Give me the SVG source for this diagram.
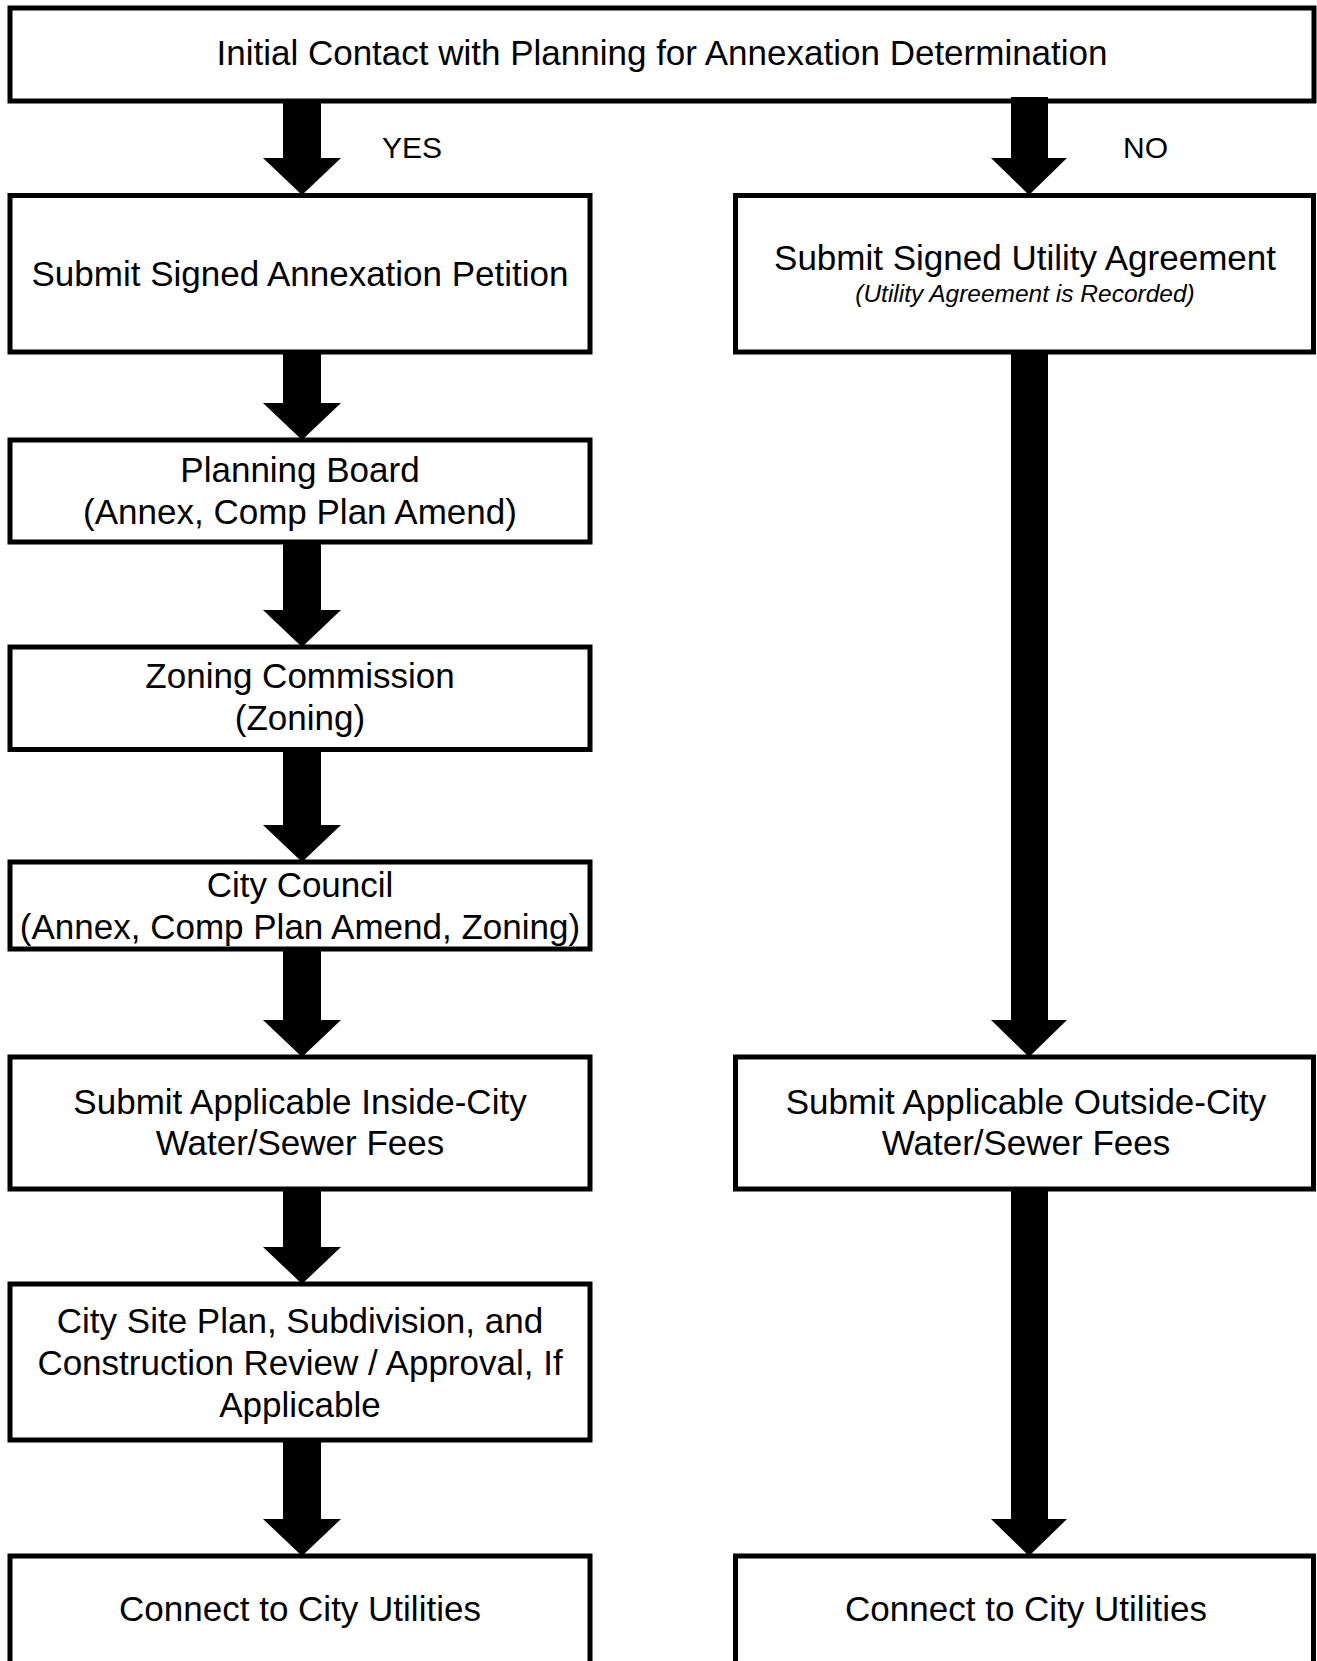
<svg xmlns="http://www.w3.org/2000/svg" width="1317" height="1661" viewBox="0 0 1317 1661">
  <style>
    .box { fill: #ffffff; stroke: #000000; stroke-width: 5; }
    .lbl { font-family: "Liberation Sans", Arial, Helvetica, sans-serif; font-size: 35px; fill: #000000; text-anchor: middle; }
    .sub { font-family: "Liberation Sans", Arial, Helvetica, sans-serif; font-size: 24.5px; font-style: italic; fill: #000000; text-anchor: middle; }
    .branch { font-family: "Liberation Sans", Arial, Helvetica, sans-serif; font-size: 30px; fill: #000000; }
    .arrow { fill: #000000; stroke: none; }
  </style>
  <rect width="1317" height="1661" fill="#ffffff"/>

  <!-- nodes -->
  <g id="start">
    <rect class="box" x="10" y="8" width="1304" height="93"/>
    <text class="lbl" x="662" y="65">Initial Contact with Planning for Annexation Determination</text>
  </g>

  <g id="annexation-petition">
    <rect class="box" x="10" y="195.5" width="580" height="156.5"/>
    <text class="lbl" x="300" y="286">Submit Signed Annexation Petition</text>
  </g>

  <g id="utility-agreement">
    <rect class="box" x="735.5" y="195.5" width="578" height="156.5"/>
    <text class="lbl" x="1025" y="270">Submit Signed Utility Agreement</text>
    <text class="sub" x="1025" y="302">(Utility Agreement is Recorded)</text>
  </g>

  <g id="planning-board">
    <rect class="box" x="10" y="440" width="580" height="102"/>
    <text class="lbl" x="300" y="482">Planning Board</text>
    <text class="lbl" x="300" y="524">(Annex, Comp Plan Amend)</text>
  </g>

  <g id="zoning-commission">
    <rect class="box" x="10" y="647" width="580" height="102.5"/>
    <text class="lbl" x="300" y="688">Zoning Commission</text>
    <text class="lbl" x="300" y="730">(Zoning)</text>
  </g>

  <g id="city-council">
    <rect class="box" x="10" y="862" width="580" height="87"/>
    <text class="lbl" x="300" y="897">City Council</text>
    <text class="lbl" x="300" y="939">(Annex, Comp Plan Amend, Zoning)</text>
  </g>

  <g id="inside-city-fees">
    <rect class="box" x="10" y="1057" width="580" height="132"/>
    <text class="lbl" x="300" y="1114">Submit Applicable Inside-City</text>
    <text class="lbl" x="300" y="1155">Water/Sewer Fees</text>
  </g>

  <g id="outside-city-fees">
    <rect class="box" x="735.5" y="1057" width="578" height="132"/>
    <text class="lbl" x="1026" y="1114">Submit Applicable Outside-City</text>
    <text class="lbl" x="1026" y="1155">Water/Sewer Fees</text>
  </g>

  <g id="site-plan-review">
    <rect class="box" x="10" y="1284" width="580" height="156"/>
    <text class="lbl" x="300" y="1333">City Site Plan, Subdivision, and</text>
    <text class="lbl" x="300" y="1375">Construction Review / Approval, If</text>
    <text class="lbl" x="300" y="1417">Applicable</text>
  </g>

  <g id="connect-inside">
    <rect class="box" x="10" y="1556" width="580" height="130"/>
    <text class="lbl" x="300" y="1621">Connect to City Utilities</text>
  </g>

  <g id="connect-outside">
    <rect class="box" x="735.5" y="1556" width="578" height="130"/>
    <text class="lbl" x="1026" y="1621">Connect to City Utilities</text>
  </g>

  <!-- connectors: block arrows, shaft 38 wide, head 78 wide and 36 tall -->
  <g id="connectors">
    <!-- left column, centre x = 302 -->
    <path class="arrow" d="M283 99 H321 V158 H341 L302 195 L263 158 H283 Z"/>
    <path class="arrow" d="M283 352 H321 V403 H341 L302 440 L263 403 H283 Z"/>
    <path class="arrow" d="M283 542 H321 V610 H341 L302 647 L263 610 H283 Z"/>
    <path class="arrow" d="M283 749 H321 V825 H341 L302 862 L263 825 H283 Z"/>
    <path class="arrow" d="M283 949 H321 V1020 H341 L302 1057 L263 1020 H283 Z"/>
    <path class="arrow" d="M283 1189 H321 V1247 H341 L302 1284 L263 1247 H283 Z"/>
    <path class="arrow" d="M283 1440 H321 V1519 H341 L302 1556 L263 1519 H283 Z"/>
    <!-- right column, centre x = 1029 -->
    <path class="arrow" d="M1011 97 H1048 V158 H1067 L1029 195 L991 158 H1011 Z"/>
    <path class="arrow" d="M1011 352 H1048 V1020 H1067 L1029 1057 L991 1020 H1011 Z"/>
    <path class="arrow" d="M1011 1189 H1048 V1519 H1067 L1029 1556 L991 1519 H1011 Z"/>
    <text class="branch" x="382" y="158">YES</text>
    <text class="branch" x="1123" y="158">NO</text>
  </g>
</svg>
